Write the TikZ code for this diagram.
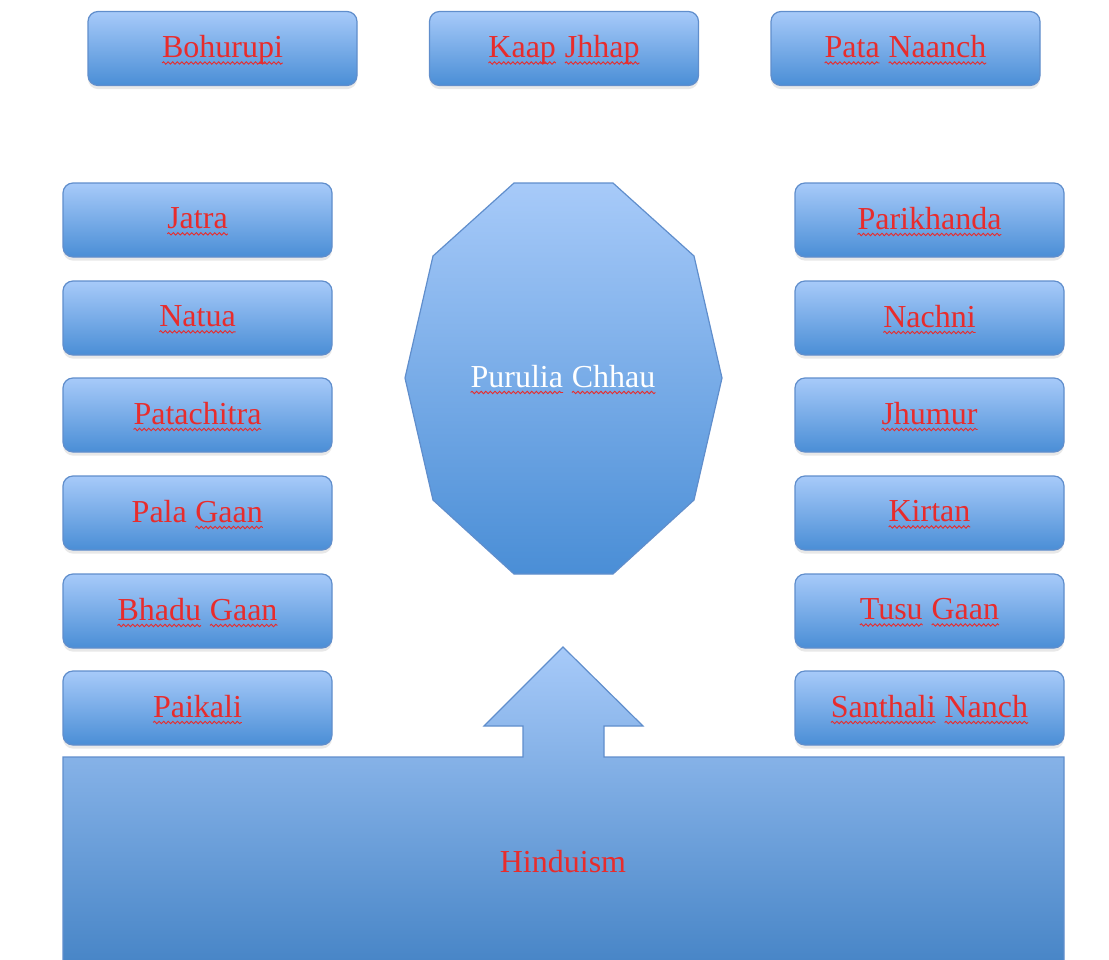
\documentclass[tikz,border=0pt]{standalone}
\usepackage{fontspec}
\setmainfont{Liberation Serif}
\usetikzlibrary{shadows,decorations.pathmorphing}
\definecolor{boxtop}{RGB}{167,202,249}
\definecolor{boxbot}{RGB}{74,142,214}
\definecolor{boxline}{RGB}{96,142,204}
\definecolor{labelred}{RGB}{232,44,44}
% word with a spell-check style wavy red underline
\newcommand\sq[1]{\tikz[baseline=(w.base), x=1pt, y=1pt]{%
  \node[inner sep=0pt, outer sep=0pt] (w) {#1};
  \draw[labelred, line width=0.45pt, decorate,
        decoration={snake, amplitude=0.6pt, segment length=2.3pt}]
    ([yshift=-2.6pt]w.base west) -- ([yshift=-2.6pt]w.base east);}}
\tikzset{
  tile/.style={draw=boxline, line width=0.6pt, rounded corners=5pt,
    top color=boxtop, bottom color=boxbot,
    minimum width=134.5pt, minimum height=37pt,
    general shadow={opacity=0.12, shadow xshift=0pt, shadow yshift=-3pt, shadow scale=1.02},
    drop shadow={opacity=0.18, shadow xshift=0pt, shadow yshift=-1.8pt}},
  lbl/.style={text=labelred, font=\fontsize{16}{19}\selectfont, yshift=-0.8pt},
  bigshape/.style={draw=boxline, line width=0.6pt}
}
\begin{document}
\begin{tikzpicture}[x=0.5pt, y=-0.5pt]
\useasboundingbox (0,0) rectangle (1109,959);
% top row
\node[tile] (boh) at (222.5,48.5) {};
\node[tile] (kaap) at (564,48.5) {};
\node[tile] (pata) at (905.5,48.5) {};
% left column
\node[tile] (jatra) at (197.5,220) {};
\node[tile] (natua) at (197.5,318) {};
\node[tile] (patachitra) at (197.5,415) {};
\node[tile] (pala) at (197.5,513) {};
\node[tile] (bhadu) at (197.5,611) {};
\node[tile] (paikali) at (197.5,708) {};
% right column
\node[tile] (parikhanda) at (929.5,220) {};
\node[tile] (nachni) at (929.5,318) {};
\node[tile] (jhumur) at (929.5,415) {};
\node[tile] (kirtan) at (929.5,513) {};
\node[tile] (tusu) at (929.5,611) {};
\node[tile] (santhali) at (929.5,708) {};
% tile captions
\node[lbl] (t-boh) at (boh) {\sq{Bohurupi}};
\node[lbl] (t-kaap) at (kaap) {\sq{Kaap} \sq{Jhhap}};
\node[lbl] (t-pata) at (pata) {\sq{Pata} \sq{Naanch}};
\node[lbl] (t-jatra) at (jatra) {\sq{Jatra}};
\node[lbl] (t-natua) at (natua) {\sq{Natua}};
\node[lbl] (t-patachitra) at (patachitra) {\sq{Patachitra}};
\node[lbl] (t-pala) at (pala) {Pala \sq{Gaan}};
\node[lbl] (t-bhadu) at (bhadu) {\sq{Bhadu} \sq{Gaan}};
\node[lbl] (t-paikali) at (paikali) {\sq{Paikali}};
\node[lbl] (t-parikhanda) at (parikhanda) {\sq{Parikhanda}};
\node[lbl] (t-nachni) at (nachni) {\sq{Nachni}};
\node[lbl] (t-jhumur) at (jhumur) {\sq{Jhumur}};
\node[lbl] (t-kirtan) at (kirtan) {\sq{Kirtan}};
\node[lbl] (t-tusu) at (tusu) {\sq{Tusu} \sq{Gaan}};
\node[lbl] (t-santhali) at (santhali) {\sq{Santhali} \sq{Nanch}};
% central decagon
\path[bigshape, top color=boxtop, bottom color=boxbot]
  (514,183) -- (613,183) -- (694,256) -- (722,378) -- (694,500) -- (613,574)
  -- (514,574) -- (433,500) -- (405,378) -- (433,256) -- cycle;
\node[lbl, text=white] (chhau) at (563,378) {\sq{Purulia} \sq{Chhau}};
% base block with upward arrow
\path[bigshape, top color=boxtop, bottom color=boxbot!92!black]
  (63,757) -- (523,757) -- (523,726) -- (484,726) -- (563,647) -- (643,726)
  -- (604,726) -- (604,757) -- (1064,757) -- (1064,975) -- (63,975) -- cycle;
\node[lbl] (hind) at (563,860) {Hinduism};
\end{tikzpicture}
\end{document}
